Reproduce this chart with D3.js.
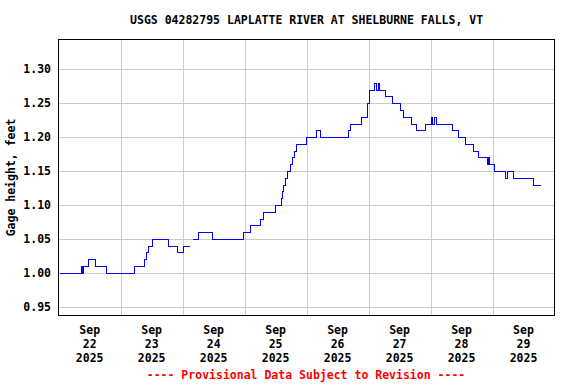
<!DOCTYPE html>
<html lang="en">
<head>
  <meta charset="UTF-8">
  <title>USGS 04282795 Gage height</title>
  <script src="https://d3js.org/d3.v7.min.js"></script>
  <style>
    body { margin: 0; padding: 0; background: #fff; }
    text { font-family: "DejaVu Sans Mono", monospace; font-weight: bold; font-size: 11.5px; fill: #000; }
    .grid line { stroke: #cccccc; stroke-width: 1; shape-rendering: crispEdges; }
    .series { fill: none; stroke: #0000ff; stroke-width: 1; shape-rendering: crispEdges; }
    .frame { fill: none; stroke: #000; stroke-width: 1.5; shape-rendering: crispEdges; }
    .note { fill: #ff0000; }
  </style>
</head>
<body>
  <svg id="chart"></svg>

  <script>
    // hours since 2025-09-22 00:00, value holds until next point (null = gap)
    const hours = [0, 8.75, 9, 9.5, 11.5, 14.25, 18.25, 29.25, 33, 33.75, 34.5, 36,
      42.5, 45.75, 48, 50.5, 50.75,
      51.75, 54, 59.5, 71.5, 74.25, 78, 79.25, 83.75, 86, 86.5, 87, 87.75, 88.5,
      89.75, 90.5, 91, 92, 95.75, 99.5, 101.25, 112, 113, 117, 119.5, 120,
      122.25, 123, 123.5, 124, 126.25, 129, 132, 133.25, 136.25, 138.5, 141.75,
      144, 144.5, 145.25, 146.25, 152.5, 154.75, 157.25, 160.25, 162.5, 166,
      166.25, 166.5, 168.75, 173, 173.75, 175.75, 183.75, 186.5];
    const gage = [1.00, 1.01, 1.00, 1.01, 1.02, 1.01, 1.00, 1.01, 1.02, 1.03, 1.04, 1.05,
      1.04, 1.03, 1.04, 1.04, null,
      1.05, 1.06, 1.05, 1.06, 1.07, 1.08, 1.09, 1.10, 1.11, 1.12, 1.13, 1.14, 1.15,
      1.16, 1.17, 1.18, 1.19, 1.20, 1.21, 1.20, 1.21, 1.22, 1.23, 1.25, 1.27,
      1.28, 1.27, 1.28, 1.27, 1.26, 1.25, 1.24, 1.23, 1.22, 1.21, 1.22,
      1.23, 1.22, 1.23, 1.22, 1.21, 1.20, 1.19, 1.18, 1.17, 1.16,
      1.17, 1.16, 1.15, 1.14, 1.15, 1.14, 1.13, 1.13];

    const yTicks = [0.95, 1.00, 1.05, 1.10, 1.15, 1.20, 1.25, 1.30];
    const dayLabels = ['22', '23', '24', '25', '26', '27', '28', '29'];
    const title = 'USGS 04282795 LAPLATTE RIVER AT SHELBURNE FALLS, VT';
    const yTitle = 'Gage height, feet';
    const footer = '---- Provisional Data Subject to Revision ----';

    const width = 576, height = 384;
    const plotL = 58.7, plotR = 554.5, plotT = 39.3, plotB = 315.7;

    const svg = d3.select('#chart').attr('width', width).attr('height', height);

    const start = new Date(2025, 8, 22);
    const end = new Date(2025, 8, 30);
    const x = d3.scaleTime().domain([start, end]).range([plotL, plotR]);
    const y = d3.scaleLinear().domain([0.9367, 1.3443]).range([plotB, plotT]);

    const data = hours.map((h, i) => ({ t: d3.timeMinute.offset(start, h * 60), v: gage[i] }));
    const days = d3.timeDay.range(start, end);

    // grid
    const grid = svg.append('g').attr('class', 'grid');
    grid.selectAll('.gy').data(yTicks).enter().append('line')
      .attr('x1', plotL).attr('x2', plotR)
      .attr('y1', d => Math.round(y(d)) + 0.5).attr('y2', d => Math.round(y(d)) + 0.5);
    grid.selectAll('.gx').data(days.slice(1)).enter().append('line')
      .attr('y1', plotT).attr('y2', plotB)
      .attr('x1', d => Math.round(x(d)) + 0.5).attr('x2', d => Math.round(x(d)) + 0.5);

    // series
    const line = d3.line()
      .defined(d => d.v !== null)
      .x(d => Math.round(x(d.t)) + 0.5)
      .y(d => Math.round(y(d.v)) + 0.5)
      .curve(d3.curveStepAfter);
    svg.append('path').datum(data).attr('class', 'series').attr('d', line);

    svg.append('rect').attr('class', 'frame')
      .attr('x', plotL).attr('y', plotT)
      .attr('width', plotR - plotL).attr('height', plotB - plotT);

    // y axis labels
    svg.selectAll('.ylab').data(yTicks).enter().append('text')
      .attr('x', 51).attr('y', d => y(d) + 4)
      .attr('text-anchor', 'end')
      .text(d => d3.format('.2f')(d));

    svg.append('text')
      .attr('transform', `translate(15,${(plotT + plotB) / 2}) rotate(-90)`)
      .attr('text-anchor', 'middle')
      .text(yTitle);

    // x axis labels at noon of each day
    const xl = svg.selectAll('.xlab').data(days).enter().append('text')
      .attr('text-anchor', 'middle')
      .attr('transform', d => `translate(${x(d3.timeHour.offset(d, 12))},0)`);
    xl.append('tspan').attr('x', 0).attr('y', 334).text('Sep');
    xl.append('tspan').attr('x', 0).attr('y', 348).text((d, i) => dayLabels[i]);
    xl.append('tspan').attr('x', 0).attr('y', 362).text('2025');

    svg.append('text')
      .attr('x', (plotL + plotR) / 2).attr('y', 24)
      .attr('text-anchor', 'middle')
      .text(title);

    svg.append('text').attr('class', 'note')
      .attr('x', 306).attr('y', 379)
      .attr('text-anchor', 'middle')
      .text(footer);
  </script>
</body>
</html>
